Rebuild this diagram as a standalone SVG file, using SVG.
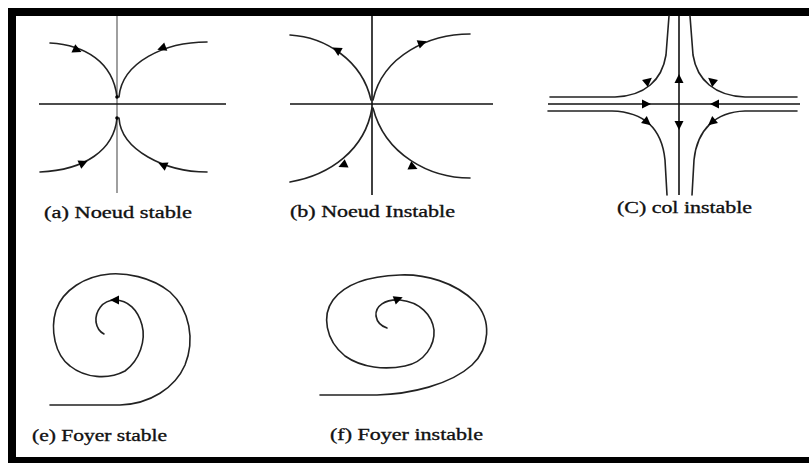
<svg xmlns="http://www.w3.org/2000/svg" xmlns:xlink="http://www.w3.org/1999/xlink" width="809" height="463" viewBox="0 0 809 463">
<style>
.c{fill:none;stroke:#222;stroke-width:1.6;stroke-linecap:round}
.ax{fill:none;stroke:#111;stroke-width:1.6}
.axg{fill:none;stroke:#888;stroke-width:1.6}
.t{font-family:"Liberation Serif","Times New Roman",serif;font-size:17px;fill:#111;stroke:#111;stroke-width:0.35}
.ar{fill:#000}
</style>
<defs>
<path id="tri" d="M5,0 L-4,-4.5 L-4,4.5 Z"/>
</defs>
<rect x="0" y="0" width="809" height="463" fill="#fff"/>
<g id="frame">
<rect x="8" y="8" width="801" height="8" fill="#000"/>
<rect x="8" y="8" width="8" height="455" fill="#000"/>
<rect x="8" y="457" width="801" height="6" fill="#000"/>
</g>
<g id="node-a">
<line class="axg" x1="117" y1="16" x2="117" y2="193"/>
<line class="ax" x1="39" y1="104" x2="226" y2="104"/>
<path class="c" d="M50,43 C85,45 113,62 117,97"/>
<path class="c" d="M207,42 C165,42 122,62 119,97"/>
<path class="c" d="M40,172 C85,170 114,150 117,118"/>
<path class="c" d="M207,172 C165,172 121,150 119,118"/>
<circle cx="117" cy="97" r="1.8" fill="#000"/>
<circle cx="117" cy="118" r="1.8" fill="#000"/>
<use href="#tri" class="ar" transform="translate(77,50) rotate(25)"/>
<use href="#tri" class="ar" transform="translate(162,48) rotate(160)"/>
<use href="#tri" class="ar" transform="translate(83,163) rotate(-25)"/>
<use href="#tri" class="ar" transform="translate(163,165) rotate(-155)"/>
<text class="t" x="44" y="218" textLength="148" lengthAdjust="spacingAndGlyphs">(a) Noeud stable</text>
</g>
<g id="node-b">
<line class="ax" x1="372" y1="16" x2="372" y2="195"/>
<line class="ax" x1="290" y1="104" x2="493" y2="104"/>
<path class="c" d="M290,35 C325,37 362,60 371,100"/>
<path class="c" d="M470,34 C430,34 383,55 373,100"/>
<path class="c" d="M290,182 C330,175 365,150 372,108"/>
<path class="c" d="M470,178 C430,178 385,155 373,108"/>
<use href="#tri" class="ar" transform="translate(337,50) rotate(-150)"/>
<use href="#tri" class="ar" transform="translate(422,43) rotate(-20)"/>
<use href="#tri" class="ar" transform="translate(343,165) rotate(155)"/>
<use href="#tri" class="ar" transform="translate(413,167) rotate(25)"/>
<text class="t" x="290" y="217" textLength="165" lengthAdjust="spacingAndGlyphs">(b) Noeud Instable</text>
</g>
<g id="node-c">
<line class="ax" x1="679" y1="16" x2="679" y2="195"/>
<line class="ax" x1="548" y1="104" x2="800" y2="104"/>
<path class="c" d="M550,97 L615,97 C645,96 662,80 666,55 L669,16"/>
<path class="c" d="M797,97 L745,97 C715,96 697,80 693,55 L690,16"/>
<path class="c" d="M548,111 L612,111 C645,112 662,130 665,160 L667,195"/>
<path class="c" d="M797,111 L745,111 C715,112 697,130 694,160 L692,195"/>
<use href="#tri" class="ar" transform="translate(648,81) rotate(-40)"/>
<use href="#tri" class="ar" transform="translate(712,81) rotate(-140)"/>
<use href="#tri" class="ar" transform="translate(647,122) rotate(40)"/>
<use href="#tri" class="ar" transform="translate(712,122) rotate(140)"/>
<use href="#tri" class="ar" transform="translate(646,104) rotate(0)"/>
<use href="#tri" class="ar" transform="translate(715,104) rotate(180)"/>
<use href="#tri" class="ar" transform="translate(679,79) rotate(-90)"/>
<use href="#tri" class="ar" transform="translate(679,125) rotate(90)"/>
<text class="t" x="617" y="213" textLength="135" lengthAdjust="spacingAndGlyphs">(C) col instable</text>
</g>
<g id="node-e">
<path class="c" d="M50,405 L120,405 C150,404 175,388 185,365 C195,340 190,310 170,292 C150,276 125,273 110,274 C85,276 63,290 56,310 C50,330 55,355 70,366 C85,378 108,380 125,371 C140,360 146,340 142,325 C138,310 128,300 115,300 C102,300 95,312 96,322 C97,328 100,332 104,334"/>
<use href="#tri" class="ar" transform="translate(115,300) rotate(180)"/>
<text class="t" x="32" y="441" textLength="135" lengthAdjust="spacingAndGlyphs">(e) Foyer stable</text>
</g>
<g id="node-f">
<path class="c" d="M320,395 L377,395 C410,394 450,385 472,365 C490,348 492,320 475,302 C455,282 425,274 400,275 C370,276 345,284 333,300 C322,315 325,340 345,356 C362,368 385,370 405,366 C425,362 435,345 434,330 C432,315 420,302 400,300 C385,299 375,306 376,316 C377,322 381,326 387,328"/>
<use href="#tri" class="ar" transform="translate(398,299) rotate(-20)"/>
<text class="t" x="330" y="440" textLength="153" lengthAdjust="spacingAndGlyphs">(f) Foyer instable</text>
</g>
<g id="connectors"/>
</svg>
